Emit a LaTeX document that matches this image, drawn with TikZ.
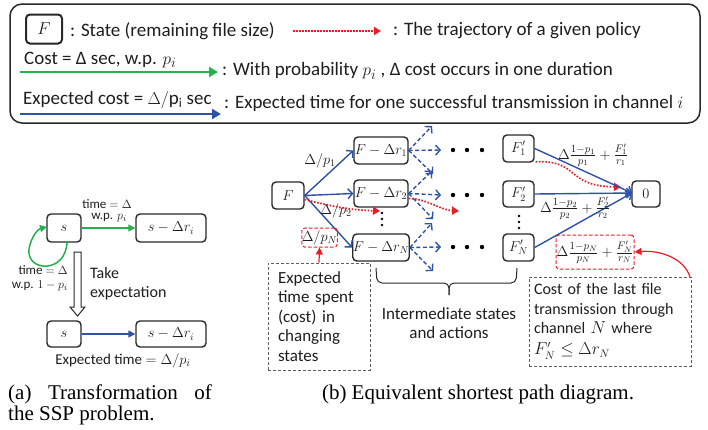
\documentclass[tikz,border=0pt]{standalone}
\usepackage{fontspec}
\setmainfont{Carlito}
\newfontfamily\capfont{Liberation Serif}
\usetikzlibrary{arrows.meta}
\definecolor{boxc}{RGB}{40,40,40}
\definecolor{txtc}{RGB}{30,30,30}
\definecolor{blueA}{RGB}{46,82,165}
\definecolor{greenA}{RGB}{37,177,77}
\definecolor{redA}{RGB}{235,28,36}
\definecolor{grayA}{RGB}{95,95,95}
\tikzset{
  bx/.style={draw=boxc, line width=1.4pt, rounded corners=4pt, inner sep=0pt, text=txtc, font=\fontsize{14}{16}\selectfont},
  txt/.style={inner sep=0pt, text=txtc, font=\fontsize{17}{19}\selectfont},
  mth/.style={inner sep=0pt, text=txtc, font=\fontsize{14}{16}\selectfont},
  sml/.style={inner sep=0pt, text=txtc, font=\fontsize{13}{14}\selectfont},
  lgt/.style={inner sep=0pt, text=txtc, anchor=west, font=\fontsize{19}{21}\selectfont},
  captxt/.style={inner sep=0pt, text=black, font=\capfont\fontsize{21}{23}\selectfont},
  barr/.style={draw=blueA, line width=1.4pt, -{Straight Barb[length=4.5pt,width=10pt]}},
  darr/.style={barr, dash pattern=on 4pt off 2.5pt},
  rdot/.style={draw=redA, line width=1.7pt, dash pattern=on 1.6pt off 1.6pt, -{Triangle[length=7pt,width=8pt]}},
  gbox/.style={draw=grayA, line width=0.9pt, dash pattern=on 3pt off 2pt, inner ysep=0pt, text=txtc, align=left, font=\fontsize{17}{19.5}\selectfont},
  rbox/.style={draw=redA, line width=1pt, dash pattern=on 3.5pt off 2pt, rounded corners=3pt, inner sep=0pt, text=txtc, font=\fontsize{14}{16}\selectfont},
}
\begin{document}
\begin{tikzpicture}[x=1pt,y=-1pt]
\useasboundingbox (0,0) rectangle (708,429);

% ---------------- legend
\draw[draw=boxc, line width=1.5pt, rounded corners=12pt] (10,4) rectangle (700,123);
\node[bx, line width=2pt, minimum width=36pt, minimum height=29pt, font=\fontsize{16}{18}\selectfont] (LF) at (44,29) {$F$};
\node[lgt] (l1) at (70,31) {: State (remaining file size)};
\coordinate (ra) at (293,31);
\coordinate (rb) at (381,31);
\draw[rdot, dash pattern=on 1.8pt off 1.2pt] (ra) -- (rb);
\node[lgt] (l2) at (393,31) {: The trajectory of a given policy};
\node[lgt] (l3) at (24,60) {Cost = Δ sec, w.p. $p_i$};
\coordinate (ga) at (20,72);
\coordinate (gb) at (218,72);
\draw[draw=greenA, line width=2.5pt, -{Triangle[length=9pt,width=10pt]}] (ga) -- (gb);
\node[lgt] (l4) at (222,71) {: With probability $p_i$ , Δ cost occurs in one duration};
\node[lgt] (l5) at (23,100) {Expected cost = $\Delta/\mathrm{p_i}$ sec};
\coordinate (ba) at (20,114);
\coordinate (bb) at (221,114);
\draw[draw=blueA, line width=2.5pt, -{Triangle[length=9pt,width=10pt]}] (ba) -- (bb);
\node[lgt] (l6) at (224,103) {: Expected time for one successful transmission in channel $i$};

% ---------------- part (a)
\node[bx, minimum width=34pt, minimum height=28pt] (s1) at (64,228) {$s$};
\node[bx, minimum width=70pt, minimum height=28pt] (sr1) at (171,228) {$s-\Delta r_i$};
\draw[draw=greenA, line width=1.5pt, -{Triangle[length=7pt,width=7pt]}] (s1) -- (sr1);
\node[sml] (ta) at (107,204) {time $=\Delta$};
\node[sml] (tb) at (109,218) {w.p. $p_i$};
\coordinate (lp) at (67,242);
\coordinate (lq) at (47,227);
\draw[draw=greenA, line width=1.5pt, -{Triangle[length=7pt,width=7pt]}] (lp) .. controls (66,274) and (26,272) .. (29,249) .. controls (31,237) and (38,229) .. (lq);
\node[sml, anchor=east] (tc) at (68,270) {time $=\Delta$};
\node[sml, anchor=east] (td) at (68,285.5) {w.p. $1-p_i$};
\draw[draw=boxc, line width=1pt, fill=white] (74,252) -- (81,252) -- (81,307) -- (85,307) -- (77.5,316) -- (70,307) -- (74,307) -- cycle;
\node[txt, anchor=west, font=\fontsize{16}{18}\selectfont] (te) at (90,273) {Take};
\node[txt, anchor=west, font=\fontsize{16}{18}\selectfont] (tf) at (90,293) {expectation};
\node[bx, minimum width=34pt, minimum height=26pt] (s2) at (64,334) {$s$};
\node[bx, minimum width=70pt, minimum height=26pt] (sr2) at (171,334) {$s-\Delta r_i$};
\draw[draw=blueA, line width=1.5pt, -{Triangle[length=7pt,width=7pt]}] (s2) -- (sr2);
\node[sml, font=\fontsize{15}{17}\selectfont] (tg) at (123,361) {Expected time $=\Delta/p_i$};
\node[captxt, anchor=base west] (ca1) at (8,399) {(a)};
\node[captxt, anchor=base] (ca2) at (113,399) {Transformation};
\node[captxt, anchor=base east] (ca3) at (212,399) {of};
\node[captxt, anchor=base west] (ca4) at (8,420) {the SSP problem.};

% ---------------- part (b)
\node[bx, minimum width=32pt, minimum height=27pt] (F) at (288,195.5) {$F$};
\node[bx, minimum width=54pt, minimum height=27pt] (r1) at (381,150.5) {$F-\Delta r_1$};
\node[bx, minimum width=54pt, minimum height=27pt] (r2) at (381,193.5) {$F-\Delta r_2$};
\node[bx, minimum width=54pt, minimum height=27pt] (rN) at (381,247.5) {$F-\Delta r_N$};
\node[bx, minimum width=31pt, minimum height=27pt] (f1) at (518.5,148.5) {$F_1'$};
\node[bx, minimum width=31pt, minimum height=26pt] (f2) at (518.5,194) {$F_2'$};
\node[bx, minimum width=31pt, minimum height=27pt] (fN) at (518.5,247.5) {$F_N'$};
\node[bx, minimum width=28pt, minimum height=26pt] (z) at (646,194) {$0$};

\draw[barr] (F.east) -- (r1.west);
\draw[barr] (F.east) -- (r2.west);
\draw[barr] (F.east) -- (rN.west);
\node[mth] (p1) at (320,161) {$\Delta/p_1$};
\node[mth] (p2) at (336,211) {$\Delta/p_2$};
\node[rbox, minimum width=35pt, minimum height=19pt] (pN) at (319.5,237.5) {$\Delta/p_N$};

% dashed outgoing arrows
\foreach \n/\y in {r1/150, r2/195, rN/247}{
  \coordinate (\n u) at (432,\y-24);
  \coordinate (\n r) at (441,\y);
  \coordinate (\n d) at (433,\y+24);
  \draw[darr] (\n.east) -- (\n u);
  \draw[darr] (\n.east) -- (\n r);
  \draw[darr] (\n.east) -- (\n d);
  \fill[black] (453,\y) circle (2.2pt) (467,\y) circle (2.2pt) (482,\y) circle (2.2pt);
}
\fill[black] (382,213) circle (1.3pt) (382,219) circle (1.3pt) (382,225) circle (1.3pt);
\fill[black] (519,216) circle (1.3pt) (519,222) circle (1.3pt) (519,228) circle (1.3pt);

% red trajectory
\coordinate (t1) at (380,211);
\draw[rdot] (F.east) ++(0,4) .. controls (330,206) and (350,210) .. (t1);
\coordinate (t2) at (459,211);
\draw[rdot] (r2.east) ++(0,5) .. controls (428,199) and (440,210) .. (t2);
\coordinate (t3) at (621,187);
\draw[rdot] (f1.south east) ++(1,-1) .. controls (580,160) and (565,186) .. (t3);

% to zero
\coordinate (zin) at (632,193);
\draw[barr] (f1.east) -- (zin);
\draw[barr] (f2.east) -- (zin);
\draw[barr] (fN.east) -- (zin);
\node[mth, font=\fontsize{15.5}{17}\selectfont] (c1) at (593,155) {$\Delta\frac{1-p_1}{p_1}+\frac{F_1'}{r_1}$};
\node[mth, font=\fontsize{15.5}{17}\selectfont] (c2) at (575,208) {$\Delta\frac{1-p_2}{p_2}+\frac{F_2'}{r_2}$};
\node[rbox, minimum width=78pt, minimum height=34pt, font=\fontsize{15.5}{17}\selectfont] (cN) at (595,252) {$\Delta\frac{1-p_N}{p_N}+\frac{F_N'}{r_N}$};

% annotation boxes
\node[gbox, minimum height=107pt, text width=82pt, inner xsep=10pt] (lb) at (319,316.5) {Expected\\time spent\\(cost) in\\changing\\states};
\draw[draw=redA, line width=1.2pt, -{Triangle[length=7pt,width=7pt]}] (lb.north) -- (pN.south);
\node[gbox, minimum height=89pt, text width=152pt, inner xsep=5pt, font=\fontsize{16}{19.5}\selectfont] (rb) at (610,321.5) {Cost of the last file\\transmission through\\channel $N$ where\\[1.5pt]$F_N'\le\Delta r_N$};
\coordinate (rbt) at (690,277);
\draw[draw=redA, line width=1.2pt, -{Triangle[length=7pt,width=7pt]}] (rbt) .. controls (684,258) and (660,250) .. (cN.east);

% brace
\coordinate (bl) at (376,268);
\coordinate (br) at (517,268);
\coordinate (bt) at (449,295);
\draw[draw=boxc, line width=1pt, rounded corners=5pt] (bl) -- (377,283) -- (449,283) -- (bt);
\draw[draw=boxc, line width=1pt, rounded corners=5pt] (bt) -- (449,283) -- (516,283) -- (br);
\node[txt, align=center, font=\fontsize{17}{19}\selectfont] (im) at (449,323) {Intermediate states\\and actions};
\node[captxt, anchor=base] (cb) at (478,399) {(b) Equivalent shortest path diagram.};
\end{tikzpicture}
\end{document}
